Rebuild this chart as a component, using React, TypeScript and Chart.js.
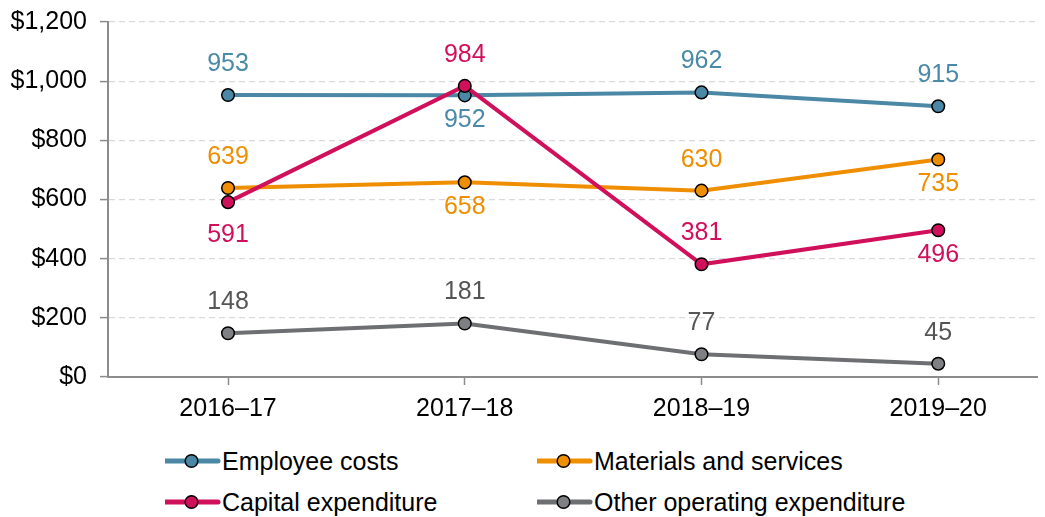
import React, { useEffect, useRef } from "react";
import { Chart, registerables } from "chart.js";

Chart.register(...registerables);

const categories = ["2016–17", "2017–18", "2018–19", "2019–20"];
const employeeCosts = [953, 952, 962, 915];
const materialsServices = [639, 658, 630, 735];
const capitalExpenditure = [591, 984, 381, 496];
const otherOperating = [148, 181, 77, 45];

// label placement: -1 above, +1 below
const employeePos = [-1, 1, -1, -1];
const materialsPos = [-1, 1, -1, 1];
const capitalPos = [1, -1, -1, 1];
const otherPos = [-1, -1, -1, -1];

const seriesNames = ["Employee costs", "Materials and services", "Capital expenditure", "Other operating expenditure"];
const lineColors = ["#4a88a5", "#ee8e00", "#d1105c", "#6e6f72"];
const pointColors = ["#4a88a5", "#ee8e00", "#d1105c", "#7f8083"];
const labelColors = ["#4a8aa8", "#ee8e00", "#d1105c", "#555555"];

const FONT = "'Liberation Sans', Arial, sans-serif";
const FS = 25;

const dataLabelPlugin = {
  id: "dataLabels",
  afterDatasetsDraw(chart: any) {
    const ctx = chart.ctx;
    const positions = [employeePos, materialsPos, capitalPos, otherPos];
    ctx.save();
    ctx.font = `${FS}px ${FONT}`;
    ctx.textAlign = "center";
    ctx.textBaseline = "middle";
    chart.data.datasets.forEach((ds: any, i: number) => {
      const meta = chart.getDatasetMeta(i);
      meta.data.forEach((pt: any, j: number) => {
        const pos = positions[i][j];
        let off = pos < 0 ? -31 : 25;
        if (i === 2 && j === 0) off = 33;
        ctx.fillStyle = labelColors[i];
        ctx.fillText(String(ds.data[j].y), pt.x, pt.y + off);
      });
    });
    ctx.restore();
  },
};

function LegendItem({ idx, left, top }: { idx: number; left: number; top: number }) {
  return (
    <div style={{ position: "absolute", left, top, height: 26, display: "flex", alignItems: "center" }}>
      <svg width={56} height={20} style={{ display: "block" }}>
        <line x1={0} y1={10} x2={53} y2={10} stroke={lineColors[idx]} strokeWidth={5} strokeLinecap="round" />
        <circle cx={26.5} cy={10} r={6.3} fill={pointColors[idx]} stroke="#000" strokeWidth={1.5} />
      </svg>
      <span style={{ fontFamily: FONT, fontSize: FS, color: "#000", marginLeft: 1, whiteSpace: "nowrap", lineHeight: "26px" }}>
        {seriesNames[idx]}
      </span>
    </div>
  );
}

export default function App() {
  const ref = useRef<HTMLCanvasElement | null>(null);
  useEffect(() => {
    if (!ref.current) return;
    const all = [employeeCosts, materialsServices, capitalExpenditure, otherOperating];
    const chart = new Chart(ref.current, {
      type: "line",
      data: {
        datasets: all.map((arr, i) => ({
          label: seriesNames[i],
          data: arr.map((v, j) => ({ x: j, y: v })),
          borderColor: lineColors[i],
          backgroundColor: pointColors[i],
          borderWidth: 4,
          pointRadius: 6.3,
          pointBorderWidth: 1.5,
          pointBorderColor: "#000",
          pointBackgroundColor: pointColors[i],
          tension: 0,
          order: [2, 3, 1, 4][i],
        })),
      },
      plugins: [dataLabelPlugin],
      options: {
        responsive: false,
        animation: false,
        layout: { padding: { top: 22, right: 0, left: 0, bottom: 0 } },
        plugins: { legend: { display: false }, tooltip: { enabled: false } },
        scales: {
          x: {
            type: "linear",
            min: -0.507,
            max: 3.418,
            afterBuildTicks: (scale: any) => {
              scale.ticks = categories.map((_, i) => ({ value: i }));
            },
            afterFit: (scale: any) => {
              scale.height = 53;
              scale.paddingLeft = 0;
              scale.paddingRight = 0;
            },
            ticks: {
              callback: (v: any) => categories[v] ?? "",
              font: { family: FONT, size: FS },
              color: "#000",
              padding: 9,
              maxRotation: 0,
              autoSkip: false,
            },
            grid: {
              drawOnChartArea: false,
              drawTicks: true,
              tickLength: 8,
              tickColor: "#8c8c8c",
              tickWidth: 1.5,
            },
            border: { display: true, color: "#8c8c8c", width: 2 },
          },
          y: {
            min: 0,
            max: 1200,
            afterFit: (scale: any) => {
              scale.width = 108;
              scale.paddingTop = 0;
              scale.paddingBottom = 0;
            },
            ticks: {
              stepSize: 200,
              callback: (v: any) => "$" + Number(v).toLocaleString("en-US"),
              font: { family: FONT, size: FS },
              color: "#000",
              padding: 13,
            },
            grid: {
              color: (c: any) => (c.tick && c.tick.value === 0 ? "rgba(0,0,0,0)" : "#d9d9d9"),
              lineWidth: 1.2,
              tickLength: 8,
              tickColor: "#8c8c8c",
              tickWidth: 1.5,
              tickBorderDash: [],
            },
            border: { display: true, color: "#8c8c8c", width: 2, dash: [6, 4] },
          },
        },
      },
    } as any);
    return () => chart.destroy();
  }, []);

  return (
    <div style={{ position: "absolute", left: 0, top: 0, width: 1045, height: 517, background: "#fff" }}>
      <canvas ref={ref} width={1045} height={430} style={{ position: "absolute", left: 0, top: 0 }} />
      <LegendItem idx={0} left={165} top={448} />
      <LegendItem idx={1} left={537} top={448} />
      <LegendItem idx={2} left={165} top={489} />
      <LegendItem idx={3} left={537} top={489} />
    </div>
  );
}
